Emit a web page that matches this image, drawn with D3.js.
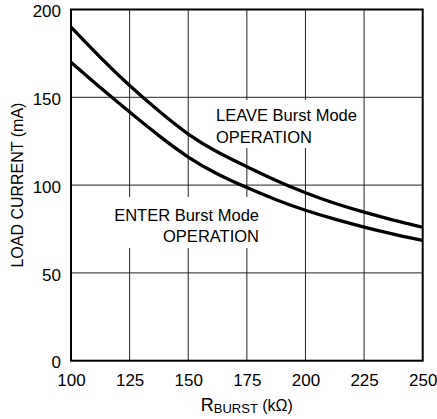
<!DOCTYPE html>
<html>
<head>
<meta charset="utf-8">
<script src="https://cdn.jsdelivr.net/npm/d3@7"></script>
<style>
  body { margin: 0; background: #fff; }
  text { font-family: "Liberation Sans", Arial, sans-serif; fill: #000; }
</style>
</head>
<body>
<div id="chart"></div>
<script>
// values
var rBurst       = [100, 112.5, 125, 137.5, 150, 162.5, 175, 187.5, 200, 212.5, 225, 237.5, 250];
var leaveCurrent = [190, 172.5, 156.5, 142, 128.5, 118.5, 110.5, 102.5, 95.5, 89.5, 84.5, 80, 76];
var enterCurrent = [170, 155.5, 141.5, 128, 115.5, 106, 98.5, 91.5, 85.5, 80.5, 76, 72, 68.5];
var xTicks = [100, 125, 150, 175, 200, 225, 250];
var yTicks = [0, 50, 100, 150, 200];

var margin = { top: 9.5, right: 14.3, bottom: 58.3, left: 71 },
    width = 437 - margin.left - margin.right,
    height = 419 - margin.top - margin.bottom;

var svg = d3.select("#chart")
    .append("svg")
    .attr("width", 437)
    .attr("height", 419)
    .append("g")
    .attr("transform", "translate(" + margin.left + "," + margin.top + ")");

var x = d3.scaleLinear().domain([100, 250]).range([0, width]);
var y = d3.scaleLinear().domain([0, 200]).range([height, 0]);

// grid
svg.append("g")
    .selectAll("line.vgrid")
    .data(xTicks.slice(1, -1))
    .enter()
    .append("line")
    .attr("x1", function(d) { return x(d); })
    .attr("x2", function(d) { return x(d); })
    .attr("y1", 0)
    .attr("y2", height)
    .attr("stroke", "#222")
    .attr("stroke-width", 1);

svg.append("g")
    .selectAll("line.hgrid")
    .data(yTicks.slice(1, -1))
    .enter()
    .append("line")
    .attr("x1", 0)
    .attr("x2", width)
    .attr("y1", function(d) { return y(d); })
    .attr("y2", function(d) { return y(d); })
    .attr("stroke", "#222")
    .attr("stroke-width", 1);

// white boxes behind the notes
svg.append("rect")
    .attr("x", 210 - margin.left).attr("y", 100 - margin.top)
    .attr("width", 148).attr("height", 48)
    .attr("fill", "#fff");
svg.append("rect")
    .attr("x", 115 - margin.left).attr("y", 197 - margin.top)
    .attr("width", 150).attr("height", 51)
    .attr("fill", "#fff");

// curves
var line = d3.line()
    .x(function(d) { return x(d[0]); })
    .y(function(d) { return y(d[1]); })
    .curve(d3.curveBasis);

[leaveCurrent, enterCurrent].forEach(function(series) {
    svg.append("path")
        .datum(rBurst.map(function(r, i) { return [r, series[i]]; }))
        .attr("fill", "none")
        .attr("stroke", "#000")
        .attr("stroke-width", 3.3)
        .attr("d", line);
});

// frame
svg.append("rect")
    .attr("width", width)
    .attr("height", height)
    .attr("fill", "none")
    .attr("stroke", "#000")
    .attr("stroke-width", 2);

// axes (labels only)
var xAxis = svg.append("g")
    .attr("transform", "translate(0," + height + ")")
    .call(d3.axisBottom(x).tickValues(xTicks).tickSize(0).tickPadding(13));
var yAxis = svg.append("g")
    .call(d3.axisLeft(y).tickValues(yTicks).tickSize(0).tickPadding(10));

[xAxis, yAxis].forEach(function(a) {
    a.select(".domain").remove();
    a.selectAll("text")
        .attr("font-size", "17px")
        .attr("font-family", "Liberation Sans, Arial, sans-serif")
        .attr("fill", "#000");
});
yAxis.selectAll("text").attr("dy", "0.42em");

// notes
var leave = svg.append("text")
    .attr("font-size", "16.5px")
    .attr("text-anchor", "start");
leave.append("tspan").attr("x", 216 - margin.left).attr("y", 121 - margin.top).text("LEAVE Burst Mode");
leave.append("tspan").attr("x", 216 - margin.left).attr("y", 142.5 - margin.top).text("OPERATION");

var enter = svg.append("text")
    .attr("font-size", "16.5px")
    .attr("text-anchor", "end");
enter.append("tspan").attr("x", 259 - margin.left).attr("y", 220.7 - margin.top).text("ENTER Burst Mode");
enter.append("tspan").attr("x", 259 - margin.left).attr("y", 241.7 - margin.top).text("OPERATION");

// axis titles
var xTitle = svg.append("text")
    .attr("text-anchor", "middle")
    .attr("x", width / 2)
    .attr("y", height + 50.5)
    .attr("font-size", "18px");
xTitle.append("tspan").text("R");
xTitle.append("tspan").attr("font-size", "13px").attr("dy", 2).text("BURST");
xTitle.append("tspan").attr("font-size", "16px").attr("dy", -2).text(" (kΩ)");

svg.append("text")
    .attr("text-anchor", "middle")
    .attr("transform", "translate(" + (23 - margin.left) + "," + (height / 2) + ") rotate(-90)")
    .attr("font-size", "16px")
    .text("LOAD CURRENT (mA)");
</script>
</body>
</html>
